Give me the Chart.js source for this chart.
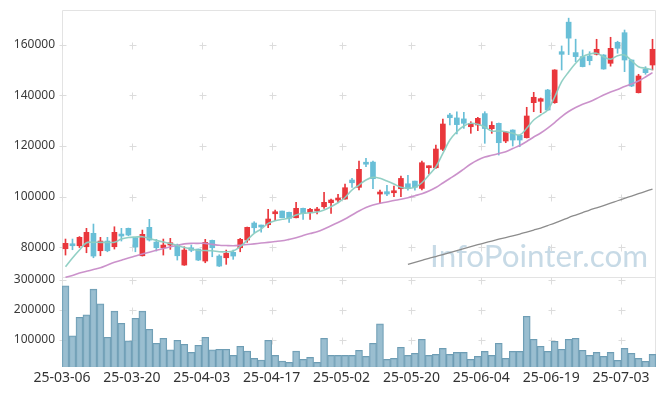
<!DOCTYPE html>
<html><head><meta charset="utf-8">
<script src="https://cdn.jsdelivr.net/npm/chart.js@4.4.1/dist/chart.umd.min.js"></script>
<style>html,body{margin:0;padding:0;background:#fff}#wrap{width:665px;height:396px;position:relative}</style>
</head><body><div id="wrap"><canvas id="c" width="665" height="396"></canvas></div>
<script>
const dates = ['2025-03-06','2025-03-07','2025-03-10','2025-03-11','2025-03-12','2025-03-13','2025-03-14','2025-03-17','2025-03-18','2025-03-19',
'2025-03-20','2025-03-21','2025-03-24','2025-03-25','2025-03-26','2025-03-27','2025-03-28','2025-03-31','2025-04-01','2025-04-02',
'2025-04-03','2025-04-04','2025-04-07','2025-04-08','2025-04-09','2025-04-10','2025-04-11','2025-04-14','2025-04-15','2025-04-16',
'2025-04-17','2025-04-18','2025-04-21','2025-04-22','2025-04-23','2025-04-24','2025-04-25','2025-04-28','2025-04-29','2025-04-30',
'2025-05-02','2025-05-07','2025-05-08','2025-05-09','2025-05-12','2025-05-13','2025-05-14','2025-05-15','2025-05-16','2025-05-19',
'2025-05-20','2025-05-21','2025-05-22','2025-05-23','2025-05-26','2025-05-27','2025-05-28','2025-05-29','2025-05-30','2025-06-02',
'2025-06-04','2025-06-05','2025-06-09','2025-06-10','2025-06-11','2025-06-12','2025-06-13','2025-06-16','2025-06-17','2025-06-18',
'2025-06-19','2025-06-20','2025-06-23','2025-06-24','2025-06-25','2025-06-26','2025-06-27','2025-06-30','2025-07-01','2025-07-02',
'2025-07-03','2025-07-04','2025-07-07','2025-07-08','2025-07-09'];

const tickLabels = ['25-03-06','25-03-20','25-04-03','25-04-17','25-05-02','25-05-20','25-06-04','25-06-19','25-07-03'];
const priceTicks = [80000,100000,120000,140000,160000];
const volumeTicks = [100000,200000,300000];

const open = [79450,80900,80630,80240,85530,78660,82490,80240,85130,87500,
83790,76680,87900,82090,79840,80910,80910,73010,79840,79330,
74590,82760,76560,75890,78030,79840,82880,89600,88810,88930,
93270,94330,93820,91690,95400,93820,94330,96030,97620,98680,
99070,106580,103690,113370,113650,101050,101970,101560,103140,105100,
106150,103260,111430,111430,118700,132240,131100,130710,127620,128300,
132800,126840,128970,121980,126320,124230,123280,137110,137650,142120,
137110,157240,168900,156880,155300,155540,156210,155940,152660,160960,
164740,153960,141050,150290,151990];
const high = [83280,83280,84260,87500,89200,83950,83950,88130,87500,87620,
83800,86830,91060,83160,83280,83550,81300,80240,80910,79330,
83160,82880,77080,78930,78930,83550,88020,90110,88810,95010,
94730,94330,93900,97770,95520,95400,95790,101720,99070,100920,
104990,107240,114080,115150,114040,102630,104480,104210,108130,108450,
106150,114080,112220,120400,130670,132900,133540,133310,129600,131340,
133550,129600,129090,125650,126400,124230,135290,141210,138960,142390,
150140,159510,170480,162170,157940,157240,162140,156100,162930,161370,
165800,154000,148320,151320,162140];
const low = [76960,79050,79920,77870,75890,76680,78260,79330,82490,84580,
78260,76560,82490,78540,76960,79210,74980,72890,78260,74780,
73920,76290,72420,73290,75260,78260,81970,85770,86040,87740,
90500,91690,89870,91570,91060,91060,93150,95400,93430,97770,
99000,103690,102630,111850,103140,97380,100380,99980,99980,102590,
102590,102630,108950,111200,118150,128300,124770,126970,125020,126050,
121070,125020,116450,121310,120000,119730,123160,133550,133150,134100,
136870,150020,156090,153320,151230,152040,155940,150300,151530,156620,
149350,143430,140940,148320,150020];
const close = [81580,80630,83950,85920,76560,82490,78660,85920,84460,84860,
80120,85130,82880,79840,80910,81820,76680,78930,78820,74980,
81970,79840,72620,77630,76560,83160,87900,87740,88020,91180,
94060,91690,91450,95400,93430,95010,95010,97770,98680,99350,
103540,105510,110800,112820,107090,101440,101050,102350,107210,103260,
103690,113410,112110,118820,128690,131180,128450,128970,128970,130940,
126900,128180,121310,125530,122370,122370,131850,139240,138680,134220,
150020,156210,162590,155300,151350,153690,158190,150410,158580,158580,
153960,143690,147650,148950,158190];
const volume = [280000,113300,175600,183400,268900,220000,108900,195600,155600,96700,
172200,195600,135600,88900,105600,66700,98900,85600,58900,82200,
108900,66700,68900,68900,48900,78900,63300,38900,33300,98900,
48900,30000,25600,63300,35600,42200,25600,105600,48900,48900,
48900,48900,65600,45600,88900,153300,35600,38900,75600,48900,
55600,102200,48900,52200,72200,52200,58900,58900,35600,45600,
62200,48900,88900,38900,62200,62200,178900,102200,78900,62200,
95600,68900,102200,105600,65600,48900,58900,45600,58900,32200,
72200,55600,38900,28900,52200];
const ma5 = [72340,75780,78930,81820,81980,81980,81980,81980,83280,83870,
84070,84190,83480,82760,82090,81500,80710,79920,79330,78820,
78740,78660,78260,78260,78540,80240,82880,85530,87230,89480,
90500,91060,91570,92760,93430,93660,93940,94730,96030,97610,
99670,102630,104600,106580,107640,107250,106180,105000,103690,103300,
103690,105510,108550,111830,117120,122370,125650,127900,128970,128570,
127510,125930,125930,125650,125020,124350,126990,130270,132250,134220,
139350,145400,149230,152660,155270,156330,156610,155270,154240,155660,
155940,153690,151320,150690,150080];
const ma20 = [68150,68860,69850,70560,71230,71910,73010,74080,74910,75780,
76560,77350,78070,78820,79530,80200,80830,81380,81580,81580,
81580,81190,80830,80710,80630,80830,81110,81380,81700,81980,
82290,82610,83160,83750,84660,85450,86160,87230,88490,89790,
91180,92760,94340,95720,96700,97380,97890,98480,98960,99590,
100380,101170,102230,103620,105390,107170,108950,110920,112900,114480,
115660,116330,117040,117750,119020,120200,121780,123560,125140,127110,
129280,131650,133630,135210,136470,137500,138760,140140,141330,142320,
143500,144490,145670,147250,148950];
const ma120 = [null,null,null,null,null,null,null,null,null,null,
null,null,null,null,null,null,null,null,null,null,
null,null,null,null,null,null,null,null,null,null,
null,null,null,null,null,null,null,null,null,null,
null,null,null,null,null,null,null,null,null,73290,
74080,74870,75660,76370,77160,77950,78740,79530,80280,81030,
81780,82490,83200,83870,84540,85250,86040,86830,87620,88610,
89600,90660,91770,92760,93740,94730,95600,96510,97490,98400,
99350,100260,101170,102110,103020];

const RED = '#e9373c', BLUE = '#69bfd7';
const upColor = dates.map((d,i) => close[i] >= open[i] ? RED : BLUE);
const at = (arr) => arr.map((v,i) => ({x: i + 0.5, y: v}));
const tickIdx = tickLabels.map(l => dates.indexOf('20' + l));

const deco = {
  id: 'deco',
  beforeDatasetsDraw(chart) {
    const {ctx, chartArea: a, scales} = chart;
    const L = Math.round(a.left) + 0.5, R = Math.round(a.right) - 0.5;
    const T = Math.round(a.top) + 0.5, B = Math.round(a.bottom) - 0.5;
    const S = Math.round(scales.yv.top) - 0.5;
    ctx.save();
    // watermark
    ctx.font = '32px Lato';
    const w = ctx.measureText('InfoPointer.com').width;
    const fs = 32 * 218 / w;
    ctx.font = fs.toFixed(1) + 'px Lato';
    ctx.fillStyle = 'rgba(180,206,222,0.75)';
    ctx.textAlign = 'right'; ctx.textBaseline = 'alphabetic';
    ctx.fillText('InfoPointer.com', 648, 267);
    // frame
    ctx.strokeStyle = '#e3e3e3'; ctx.lineWidth = 1;
    ctx.beginPath();
    ctx.moveTo(L, T); ctx.lineTo(R, T); ctx.lineTo(R, B); ctx.lineTo(L, B); ctx.closePath();
    ctx.moveTo(L, S); ctx.lineTo(R, S);
    ctx.stroke();
    // plus markers
    ctx.strokeStyle = '#dcdcdc';
    ctx.beginPath();
    const xs = tickIdx.map(i => Math.round(scales.x.getPixelForValue(i)) + 0.5);
    const ys = priceTicks.map(v => Math.round(scales.y.getPixelForValue(v)) + 0.5)
      .concat(volumeTicks.map(v => Math.round(scales.yv.getPixelForValue(v)) + 0.5));
    xs.forEach(x => ys.forEach(y => {
      ctx.moveTo(x - 3, y); ctx.lineTo(x + 4, y);
      ctx.moveTo(x, y - 3); ctx.lineTo(x, y + 4);
    }));
    ctx.stroke();
    ctx.restore();
  }
};

const fixW = s => { s.width = 62; s.paddingTop = 0; s.paddingBottom = 0; };
const plain = v => String(v);

new Chart(document.getElementById('c'), {
  type: 'bar',
  data: {
    datasets: [
      {type: 'line', label: 'MA5', data: at(ma5), yAxisID: 'y', borderColor: 'rgba(140,205,194,0.95)', borderWidth: 1.6, pointRadius: 0, tension: 0.35, order: 1},
      {type: 'line', label: 'MA20', data: at(ma20), yAxisID: 'y', borderColor: 'rgba(200,140,200,0.95)', borderWidth: 1.6, pointRadius: 0, tension: 0.3, order: 1},
      {type: 'line', label: 'MA120', data: at(ma120), yAxisID: 'y', borderColor: '#8c8c8c', borderWidth: 1.3, pointRadius: 0, tension: 0.3, spanGaps: false, order: 1},
      {label: 'wick', data: dates.map((d,i) => ({x: i + 0.5, y: [low[i], high[i]]})), yAxisID: 'y', backgroundColor: upColor, barThickness: 1, grouped: false, order: 3},
      {label: 'body', data: dates.map((d,i) => ({x: i + 0.5, y: [open[i], close[i]]})), yAxisID: 'y', backgroundColor: upColor, barThickness: 5, minBarLength: 2, grouped: false, order: 2},
      {label: 'volume', data: at(volume), yAxisID: 'yv', backgroundColor: 'rgba(140,181,201,0.88)', borderColor: '#6e9db4', borderWidth: 1, barPercentage: 1, categoryPercentage: 1, grouped: false, order: 4}
    ]
  },
  options: {
    responsive: false, animation: false,
    layout: {padding: {left: 0, right: 9, top: 10, bottom: 0}},
    plugins: {legend: {display: false}, tooltip: {enabled: false}},
    scales: {
      x: {
        type: 'linear', min: 0, max: dates.length, offset: false,
        grid: {display: false, drawTicks: false}, border: {display: false},
        afterBuildTicks: s => { s.ticks = tickIdx.map(v => ({value: v})); },
        afterFit: s => { s.height = 29; s.paddingLeft = 0; s.paddingRight = 0; },
        ticks: {autoSkip: false, maxRotation: 0, padding: 3, color: '#333',
          font: {family: 'Noto Sans', size: 14},
          callback: v => tickLabels[tickIdx.indexOf(v)]}
      },
      yv: {
        type: 'linear', position: 'left', stack: 'k', stackWeight: 89,
        min: 10000, max: 306000,
        grid: {display: false, drawTicks: false}, border: {display: false},
        afterBuildTicks: s => { s.ticks = volumeTicks.map(v => ({value: v})); },
        afterFit: fixW,
        ticks: {padding: 7, color: '#3a3a3a', font: {family: 'Noto Sans', size: 12}, callback: plain}
      },
      y: {
        type: 'linear', position: 'left', stack: 'k', stackWeight: 268,
        min: 67900, max: 173700,
        grid: {display: false, drawTicks: false}, border: {display: false},
        afterBuildTicks: s => { s.ticks = priceTicks.map(v => ({value: v})); },
        afterFit: fixW,
        ticks: {padding: 7, color: '#3a3a3a', font: {family: 'Noto Sans', size: 12}, callback: plain}
      }
    }
  },
  plugins: [deco]
});
</script></body></html>
